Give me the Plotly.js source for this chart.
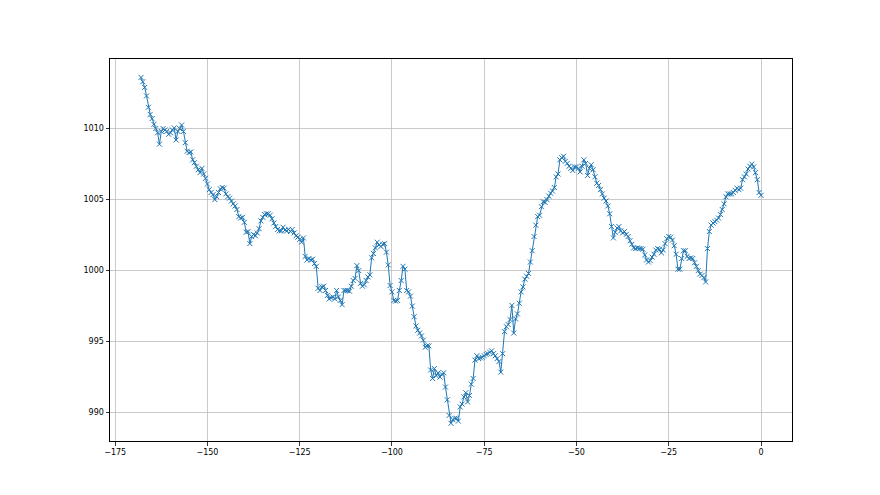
<!DOCTYPE html>
<html>
<head>
<meta charset="utf-8">
<script src="https://cdn.plot.ly/plotly-3.0.1.min.js"></script>
<style>html,body{margin:0;padding:0;background:#fff;}#chart{width:880px;height:495px;}</style>
</head>
<body>
<div id="chart"></div>
<script>
// Pressure readings every half step, x = hours before now (last point at 0)
const step = 0.5;
const pressureDay1 = [
  1013.6, 1013.3, 1012.9, 1012.3, 1011.5, 1011.0, 1010.7, 1010.3, 1010.0, 1009.7,
  1008.9, 1009.8, 1010.0, 1009.9, 1009.8, 1009.6, 1009.7, 1009.9, 1010.05, 1009.2,
  1009.8, 1010.0, 1010.25, 1009.8, 1009.0, 1008.4, 1008.3, 1008.35, 1007.8, 1007.6,
  1007.35, 1007.1, 1006.9, 1007.2, 1006.8, 1006.5, 1006.1, 1005.7, 1005.5, 1005.35,
  1005.0, 1005.2, 1005.5
];
const pressureDay2 = [
  1005.75, 1005.85, 1005.8, 1005.4, 1005.2, 1005.1, 1004.9, 1004.7, 1004.55, 1004.3,
  1003.8, 1003.7, 1003.75, 1003.4, 1002.7, 1002.75, 1001.9, 1002.4, 1002.55, 1002.45,
  1002.65, 1002.95, 1003.5, 1003.75, 1003.95, 1004.0, 1004.0, 1003.9, 1003.65, 1003.35,
  1003.1, 1002.9, 1002.8, 1002.8, 1003.05, 1002.85, 1002.8, 1002.9, 1002.75, 1002.9,
  1002.65, 1002.45, 1002.35, 1002.2, 1002.0, 1002.3
];
const pressureDay3 = [
  1001.0, 1000.75, 1000.85, 1000.75, 1000.8, 1000.5, 1000.3, 998.75, 998.6, 998.85,
  998.9, 998.6, 998.25, 998.0, 998.1, 998.15, 998.0, 998.6, 998.15, 997.9,
  997.6, 998.6, 998.6, 998.6, 998.55, 998.9, 999.3, 999.45, 1000.35, 1000.0,
  999.1, 998.9, 999.0, 999.3, 999.55, 999.7, 1000.9, 1001.2, 1001.6, 1002.0,
  1001.8, 1001.7, 1001.85, 1001.9, 1001.3, 1000.4, 998.95, 998.5, 997.9, 997.85,
  997.9, 998.6, 999.3, 1000.3, 1000.1, 998.6, 998.5, 998.2, 997.5, 996.75
];
const pressureDay4 = [
  996.1, 995.8, 995.6, 995.4, 995.1, 994.6, 994.7, 994.7, 993.0, 992.4,
  993.1, 992.6, 992.8, 992.5, 992.7, 992.8, 991.8, 990.9, 989.8, 989.25,
  989.5, 989.6, 989.6, 989.4, 990.4, 990.6, 991.1, 991.4, 990.75, 991.2,
  992.0, 992.4, 993.7, 994.0, 993.8, 993.85, 993.9, 994.0, 994.1, 994.15,
  994.25, 994.35, 994.15, 994.0, 993.8, 993.6, 992.85, 994.15, 995.7, 996.05,
  996.2, 996.55, 997.55, 995.6, 996.6, 996.95, 997.7, 998.5, 998.85, 999.4,
  999.6, 999.8, 1000.6, 1001.4, 1002.4, 1003.2, 1003.8, 1003.9, 1004.5, 1004.85
];
const pressureDay5 = [
  1004.8, 1005.0, 1005.25, 1005.45, 1005.6, 1005.85, 1006.6, 1006.8, 1007.8, 1007.95,
  1008.05, 1007.7, 1007.55, 1007.35, 1007.2, 1007.05, 1007.3, 1007.3, 1007.2, 1006.95,
  1007.35, 1007.8, 1007.55, 1006.7, 1007.2, 1007.45, 1007.1, 1006.6, 1006.15, 1006.0,
  1005.7, 1005.4, 1005.1, 1004.9, 1004.55, 1004.0, 1003.1, 1002.3, 1002.7, 1003.0,
  1003.1, 1002.8, 1002.65, 1002.75, 1002.55, 1002.4, 1002.1, 1001.85, 1001.6, 1001.55,
  1001.6, 1001.55, 1001.55, 1001.5, 1001.1, 1000.75, 1000.6, 1000.7, 1000.95, 1001.15
];
const pressureDay6 = [
  1001.45, 1001.55, 1001.5, 1001.25, 1001.45, 1001.9, 1002.25, 1002.4, 1002.35, 1002.15,
  1001.75, 1001.15, 1000.1, 1000.1, 1000.85, 1001.4, 1001.4, 1001.0, 1000.85, 1000.9,
  1000.85, 1000.55, 1000.3, 1000.0, 999.75, 999.65, 999.5, 999.2, 1001.55, 1002.75,
  1003.2, 1003.35, 1003.45, 1003.55, 1003.7, 1003.95, 1004.3, 1004.7, 1005.2, 1005.4,
  1005.4, 1005.4, 1005.5, 1005.65, 1005.8, 1005.7, 1005.8, 1006.4, 1006.6, 1006.8,
  1007.15, 1007.35, 1007.5, 1007.3, 1006.9, 1006.4, 1005.5, 1005.3
];
const xTicks = [-175, -150, -125, -100, -75, -50, -25, 0];
const yTicks = [990, 995, 1000, 1005, 1010];

const pressure = [].concat(pressureDay1, pressureDay2, pressureDay3, pressureDay4, pressureDay5, pressureDay6);
const n = pressure.length;
const hours = pressure.map((_, i) => (i - (n - 1)) * step);

const color = '#1f77b4';
const trace = {
  x: hours, y: pressure, type: 'scatter', mode: 'lines+markers',
  line: {color: color, width: 1},
  marker: {symbol: 'x-thin', size: 5, color: color, line: {color: color, width: 1}},
  hoverinfo: 'x+y'
};

const axisCommon = {
  showline: true, mirror: true, linecolor: '#000', linewidth: 1,
  ticks: 'outside', ticklen: 3.5, tickwidth: 0.8, tickcolor: '#000',
  showgrid: true, gridcolor: '#bdbdbd', gridwidth: 0.8,
  zeroline: false,
  tickfont: {family: 'DejaVu Sans, sans-serif', size: 8, color: '#000'}
};

const layout = {
  width: 880, height: 495,
  paper_bgcolor: '#fff', plot_bgcolor: '#fff',
  margin: {l: 110, r: 88, t: 59, b: 54, pad: 0},
  showlegend: false,
  xaxis: Object.assign({}, axisCommon, {range: [-176.4, 8.4], tickvals: xTicks, ticktext: xTicks.map(v => v < 0 ? '\u2212' + Math.abs(v) : String(v))}),
  yaxis: Object.assign({}, axisCommon, {range: [988.0, 1014.9], tickvals: yTicks, ticktext: yTicks.map(String)})
};

Plotly.newPlot('chart', [trace], layout, {staticPlot: true, displayModeBar: false});
</script>
</body>
</html>
